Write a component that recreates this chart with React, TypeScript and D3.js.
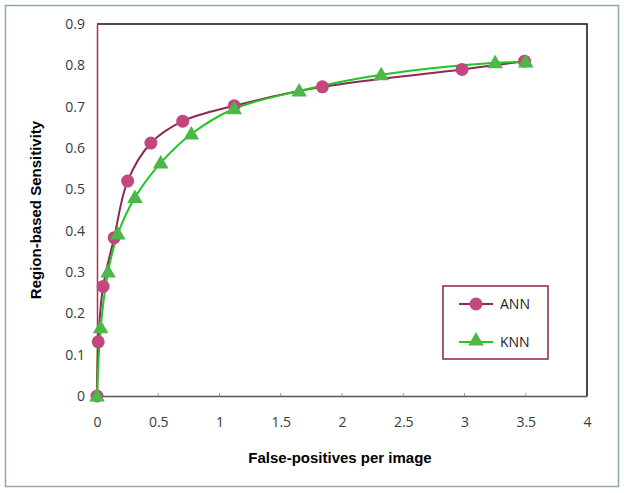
import React, { useEffect, useRef } from 'react';
import * as d3 from 'd3';

// ANN curve (false positives per image, sensitivity)
const annX = [0, 0.01, 0.05, 0.14, 0.25, 0.44, 0.7, 1.12, 1.84, 2.98, 3.49];
const annY = [0, 0.131, 0.265, 0.383, 0.52, 0.612, 0.665, 0.702, 0.748, 0.79, 0.81];

// KNN curve
const knnX = [0, 0.03, 0.09, 0.17, 0.31, 0.52, 0.77, 1.12, 1.65, 2.32, 3.25, 3.5];
const knnY = [0, 0.165, 0.3, 0.392, 0.48, 0.564, 0.634, 0.695, 0.738, 0.777, 0.806, 0.808];

const xTicks = [0, 0.5, 1, 1.5, 2, 2.5, 3, 3.5, 4];
const yTicks = [0, 0.1, 0.2, 0.3, 0.4, 0.5, 0.6, 0.7, 0.8, 0.9];

const App = () => {
  const ref = useRef<SVGSVGElement>(null);

  useEffect(() => {
    const svg = d3.select(ref.current);
    svg.selectAll('*').remove();

    const width = 624;
    const left = 97, right = 587, top = 24, bottom = 396;

    const x = d3.scaleLinear().domain([0, 4]).range([left, right]);
    const y = d3.scaleLinear().domain([0, 0.9]).range([bottom, top]);

    // outer frame
    svg.append('rect')
      .attr('x', 5.5).attr('y', 5.5)
      .attr('width', width - 11).attr('height', 481)
      .attr('fill', 'white')
      .attr('stroke', '#8fa8ac')
      .attr('stroke-width', 1.5);

    // plot box: top and right black
    svg.append('path')
      .attr('d', `M${left},${top}H${right}V${bottom}`)
      .attr('fill', 'none')
      .attr('stroke', '#111')
      .attr('stroke-width', 1.5);

    // x axis
    const xAxis = svg.append('g').attr('transform', `translate(0,${bottom})`)
      .call(d3.axisBottom(x).tickValues(xTicks).tickSize(0).tickPadding(21)
        .tickFormat((d) => d3.format('')(d as number)));
    xAxis.select('.domain').attr('stroke', '#555').attr('stroke-width', 1.5);
    xAxis.selectAll('text')
      .attr('font-family', 'Open Sans, sans-serif')
      .attr('font-size', 14)
      .attr('fill', '#3a3a3a');
    // small inner tick marks
    svg.append('g').selectAll('line').data(xTicks.slice(1, -1)).enter().append('line')
      .attr('x1', (d) => x(d)).attr('x2', (d) => x(d))
      .attr('y1', bottom).attr('y2', bottom - 3)
      .attr('stroke', '#999');

    // y axis
    const yAxis = svg.append('g').attr('transform', `translate(${left},0)`)
      .call(d3.axisLeft(y).tickValues(yTicks).tickSize(0).tickPadding(12)
        .tickFormat((d) => d3.format('')(+(d as number).toFixed(1))));
    yAxis.select('.domain').attr('stroke', '#b03048').attr('stroke-width', 1.5);
    yAxis.selectAll('text')
      .attr('font-family', 'Open Sans, sans-serif')
      .attr('font-size', 14)
      .attr('fill', '#3a3a3a');

    // axis titles
    svg.append('text')
      .attr('x', 340).attr('y', 463)
      .attr('text-anchor', 'middle')
      .attr('font-family', 'Liberation Sans, Arial, sans-serif')
      .attr('font-weight', 'bold')
      .attr('font-size', 15)
      .text('False-positives per image');

    svg.append('text')
      .attr('transform', `translate(41,${(top + bottom) / 2}) rotate(-90)`)
      .attr('text-anchor', 'middle')
      .attr('font-family', 'Liberation Sans, Arial, sans-serif')
      .attr('font-weight', 'bold')
      .attr('font-size', 15)
      .text('Region-based Sensitivity');

    const annPts = annX.map((v, i) => [x(v), y(annY[i])] as [number, number]);
    const knnPts = knnX.map((v, i) => [x(v), y(knnY[i])] as [number, number]);

    const path = d3.line().curve(d3.curveCatmullRom.alpha(0.5));

    svg.append('path')
      .attr('d', path(annPts))
      .attr('fill', 'none')
      .attr('stroke', '#8b2a5a')
      .attr('stroke-width', 2);

    svg.append('path')
      .attr('d', path(knnPts))
      .attr('fill', 'none')
      .attr('stroke', '#1ec81e')
      .attr('stroke-width', 2);

    svg.append('g').selectAll('circle').data(annPts).enter().append('circle')
      .attr('cx', (d) => d[0]).attr('cy', (d) => d[1])
      .attr('r', 6.5)
      .attr('fill', '#c2477f');

    const tri = d3.symbol().type(d3.symbolTriangle).size(105);
    svg.append('g').selectAll('path').data(knnPts).enter().append('path')
      .attr('d', tri)
      .attr('transform', (d) => `translate(${d[0]},${d[1] + 1})`)
      .attr('fill', '#4cb848');

    // legend
    const lg = svg.append('g');
    lg.append('rect')
      .attr('x', 443).attr('y', 286).attr('width', 105).attr('height', 73)
      .attr('fill', 'white')
      .attr('stroke', '#8b2252')
      .attr('stroke-width', 1.5);
    const items = [
      { name: 'ANN', color: '#8b2a5a', mark: '#c2477f', yy: 304 },
      { name: 'KNN', color: '#1ec81e', mark: '#4cb848', yy: 342 },
    ];
    items.forEach((it, i) => {
      lg.append('line')
        .attr('x1', 459).attr('x2', 493)
        .attr('y1', it.yy).attr('y2', it.yy)
        .attr('stroke', it.color).attr('stroke-width', 2);
      if (i === 0) {
        lg.append('circle').attr('cx', 476).attr('cy', it.yy).attr('r', 6.5).attr('fill', it.mark);
      } else {
        lg.append('path').attr('d', tri)
          .attr('transform', `translate(476,${it.yy - 1})`)
          .attr('fill', it.mark);
      }
      lg.append('text')
        .attr('x', 500).attr('y', it.yy + 5)
        .attr('font-family', 'Open Sans, sans-serif')
        .attr('font-size', 14)
        .attr('fill', '#222')
        .text(it.name);
    });
  }, []);

  return (
    <svg ref={ref} width={624} height={493}
      style={{ position: 'absolute', left: 0, top: 0, background: 'white' }} />
  );
};

export default App;
